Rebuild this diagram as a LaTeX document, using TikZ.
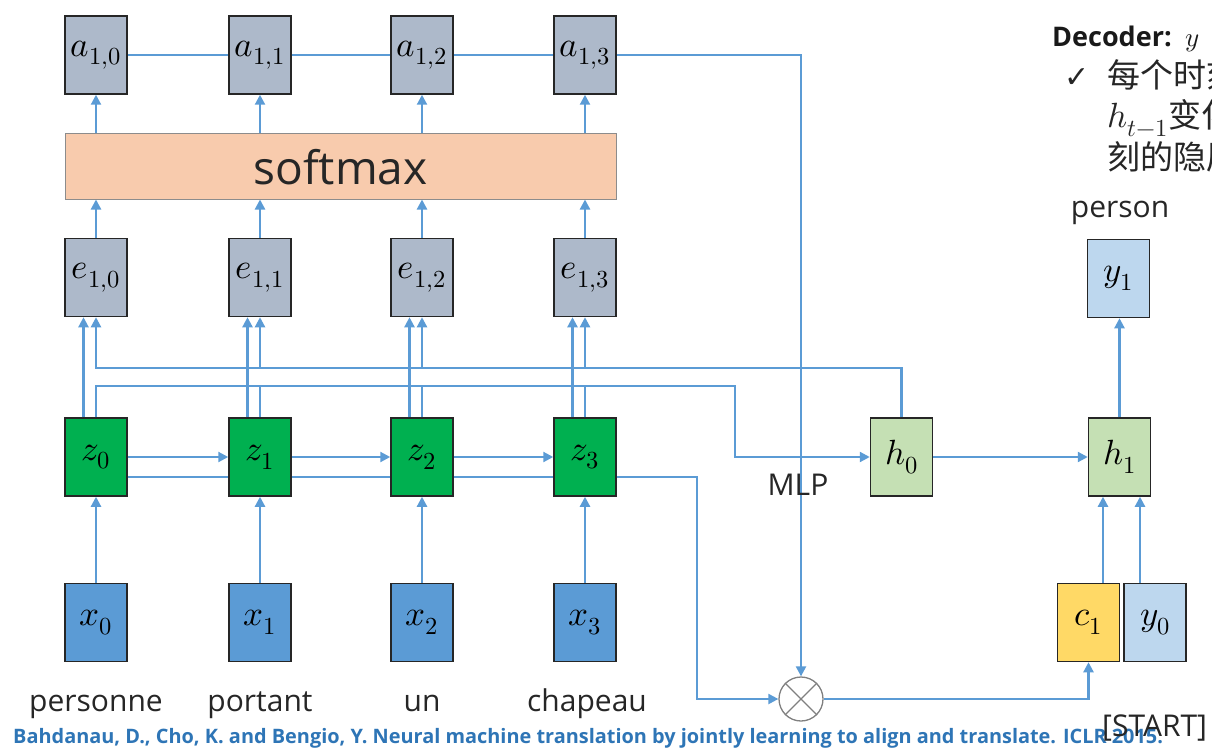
\documentclass[tikz,border=0pt]{standalone}
\usepackage{fontspec}
\usepackage{unicode-math}
\setmainfont{Open Sans}
\setmathfont{Latin Modern Math}
\newfontfamily\cjk{Noto Sans CJK SC}
\newfontfamily\dejavu{DejaVu Sans}
\usetikzlibrary{arrows.meta}
\definecolor{lc}{HTML}{5B9BD5}
\definecolor{agray}{HTML}{ADB9CA}
\definecolor{peach}{HTML}{F8CBAD}
\definecolor{zgreen}{HTML}{00B050}
\definecolor{xblue}{HTML}{5B9BD5}
\definecolor{hgreen}{HTML}{C5E0B4}
\definecolor{yblue}{HTML}{BDD7EE}
\definecolor{cyel}{HTML}{FFD966}
\definecolor{refblue}{HTML}{2E75B6}
\begin{document}
\begin{tikzpicture}[x=1pt,y=-1pt,
  box/.style={draw=black!85, line width=1.5pt, minimum width=62pt, minimum height=78pt, inner sep=0pt, font=\fontsize{35}{40}\selectfont},
  ln/.style={draw=lc, line width=2.2pt},
  arr/.style={ln, -{Triangle[length=10pt,width=10pt]}},
  lab/.style={anchor=base, inner sep=0pt, font=\fontsize{30}{36}\selectfont, text=black!85}
]
\useasboundingbox (0,0) rectangle (1212,749);
\begin{scope}
\clip (0,0) rectangle (1212,749);
% encoder columns
\foreach \i/\cx in {0/96,1/260,2/422,3/585}{
  \node[box, fill=agray] (a\i) at (\cx,55) {$a_{1,\i}$};
  \node[box, fill=agray] (e\i) at (\cx,277.5) {$e_{1,\i}$};
  \node[box, fill=zgreen] (z\i) at (\cx,457) {$z_{\i}$};
  \node[box, fill=xblue] (x\i) at (\cx,622.5) {$x_{\i}$};
}
\node[draw=black!45, line width=1pt, fill=peach, minimum width=551pt, minimum height=65pt, inner sep=0pt] (sm) at (340.5,166.5) {};
\node[lab, font=\fontsize{46}{54}\selectfont] (smt) at (340.5,184) {softmax};

% decoder boxes
\node[box, fill=hgreen] (h0) at (901.5,457) {$h_0$};
\node[box, fill=hgreen] (h1) at (1119.5,457) {$h_1$};
\node[box, fill=yblue] (y1) at (1118.5,278.5) {$y_1$};
\node[box, fill=cyel] (c1) at (1088.5,622.5) {$c_1$};
\node[box, fill=yblue] (y0) at (1155,622.5) {$y_0$};
\node[circle, draw=black!50, line width=1.3pt, fill=white, minimum size=44pt, inner sep=0pt] (ot) at (801,699) {};
\draw[black!50, line width=1.3pt] (ot.north east) -- (ot.south west) (ot.north west) -- (ot.south east);

% coordinates for buses
\coordinate (mb) at (735,386);
\coordinate (hb) at (96,368);
\coordinate (k1) at (697,699);

% a row line
\draw[ln] (a0.east) -- (a1.west);
\draw[ln] (a1.east) -- (a2.west);
\draw[ln] (a2.east) -- (a3.west);
\draw[arr] (a3.east) -| (ot.north);

\foreach \i in {0,1,2,3}{
  \draw[arr] (e\i.north) -- (e\i.north |- sm.south);
  \draw[arr] (a\i.south |- sm.north) -- (a\i.south);
  \draw[arr] (x\i.north) -- (z\i.south);
  \draw[arr] ([xshift=-12.5pt]z\i.north) -- ([xshift=-12.5pt]e\i.south);
}
% MLP bus
\draw[arr] (z0.north) |- (mb) |- (h0.west);
\foreach \i in {1,2,3}{
  \draw[ln] (z\i.north) -- (z\i.north |- mb);
}
% h0 bus
\draw[arr] (h0.north) |- (e0.south |- hb) -- (e0.south);
\foreach \i in {1,2,3}{
  \draw[arr] (e\i.south |- hb) -- (e\i.south);
}
% recurrence
\draw[arr] (z0.east) -- (z1.west);
\draw[arr] (z1.east) -- (z2.west);
\draw[arr] (z2.east) -- (z3.west);
% lower line
\draw[ln] ([yshift=-20pt]z0.east) -- ([yshift=-20pt]z1.west);
\draw[ln] ([yshift=-20pt]z1.east) -- ([yshift=-20pt]z2.west);
\draw[ln] ([yshift=-20pt]z2.east) -- ([yshift=-20pt]z3.west);
\draw[arr] ([yshift=-20pt]z3.east) -| (k1) -- (ot.west);
% decoder
\draw[arr] (ot.east) -| (c1.south);
\draw[arr] ([xshift=14.5pt]c1.north) -- ([xshift=14.5pt]c1.north |- h1.south);
\draw[arr] ([xshift=-15pt]y0.north) -- ([xshift=-15pt]y0.north |- h1.south);
\draw[arr] (h0.east) -- (h1.west);
\draw[arr] (h1.north) -- (h1.north |- y1.south);

% labels
\node[lab] (l0) at (96,711) {personne};
\node[lab] (l1) at (260,711) {portant};
\node[lab] (l2) at (422,711) {un};
\node[lab] (l3) at (587,711) {chapeau};
\node[lab] (mlp) at (798,495) {MLP};
\node[lab] (pers) at (1120,217) {person};

% footer
\node[anchor=base west, inner sep=0pt, text=refblue, font=\bfseries\fontsize{19.9}{23}\selectfont] (ref) at (13,743) {Bahdanau, D., Cho, K. and Bengio, Y. Neural machine translation by jointly learning to align and translate. ICLR 2015.};
\node[lab, anchor=base west] (start) at (1102,736) {[START]};

% right text
\node[anchor=base west, inner sep=0pt, font=\bfseries\fontsize{27}{32}\selectfont, text=black!90] (dec) at (1052,47) {Decoder:\ \ $y$};
\node[anchor=base west, inner sep=0pt, font=\fontsize{30}{34}\selectfont\dejavu, text=black!85] (chk) at (1064,88) {✓};
\node[anchor=base west, inner sep=0pt, font=\fontsize{33}{38}\selectfont\cjk, text=black!85] (t1) at (1107,88) {每个时刻};
\node[anchor=base west, inner sep=0pt, font=\fontsize{35}{40}\selectfont, text=black!85] (t2) at (1107,128) {$h_{t-1}${\cjk\fontsize{33}{38}\selectfont 变化}};
\node[anchor=base west, inner sep=0pt, font=\fontsize{33}{38}\selectfont\cjk, text=black!85] (t3) at (1107,169) {刻的隐层};
\end{scope}
\end{tikzpicture}
\end{document}
